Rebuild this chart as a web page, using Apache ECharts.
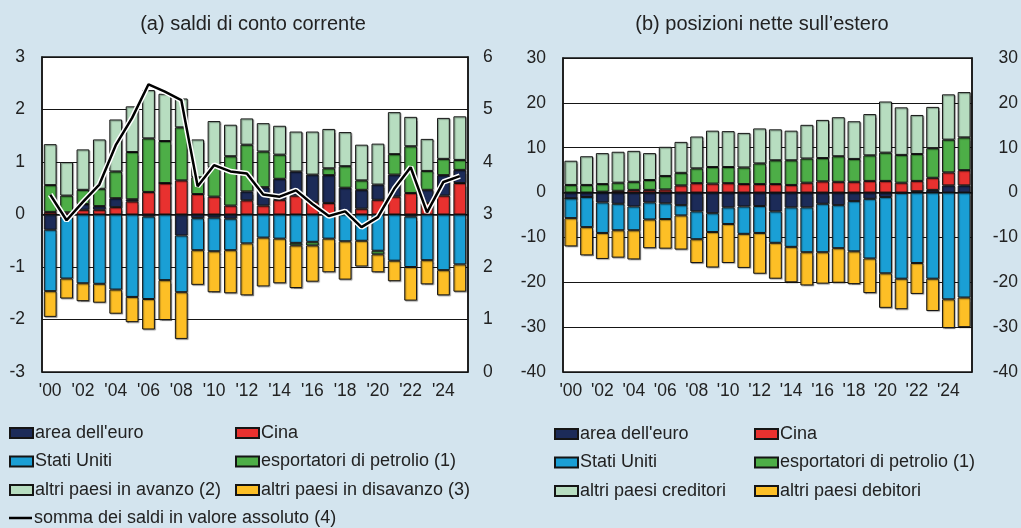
<!DOCTYPE html>
<html lang="it">
<head>
<meta charset="utf-8">
<title>Saldi di conto corrente e posizioni nette sull'estero</title>
<script src="https://cdn.jsdelivr.net/npm/echarts@6/dist/echarts.min.js"></script>
<style>
  html, body { margin: 0; padding: 0; background: #d3e4ee; }
  #chart { width: 1021px; height: 528px; }
</style>
</head>
<body>
<div id="chart"></div>
<script>
const years = ["'00", "'01", "'02", "'03", "'04", "'05", "'06", "'07", "'08", "'09", "'10", "'11", "'12",
  "'13", "'14", "'15", "'16", "'17", "'18", "'19", "'20", "'21", "'22", "'23", "'24", "'25"]

// (a) saldi di conto corrente, % PIL mondiale (asse sinistro); somma sull'asse destro
const caCina = [0.05, 0.04, 0.09, 0.09, 0.14, 0.25, 0.43, 0.60, 0.65, 0.39, 0.34, 0.17, 0.27, 0.17, 0.28, 0.36, 0.24, 0.22, 0.02, 0.11, 0.28, 0.34, 0.41, 0.22, 0.36, 0.60]
const caEuro = [-0.29, -0.04, 0.11, 0.07, 0.17, 0.04, -0.04, 0.00, -0.40, -0.07, -0.06, -0.08, 0.17, 0.35, 0.40, 0.46, 0.52, 0.53, 0.49, 0.36, 0.29, 0.42, -0.04, 0.25, 0.39, 0.25]
const caUsa = [-1.17, -1.18, -1.31, -1.32, -1.43, -1.57, -1.57, -1.25, -1.08, -0.61, -0.64, -0.60, -0.55, -0.44, -0.46, -0.54, -0.52, -0.46, -0.51, -0.50, -0.69, -0.88, -0.96, -0.87, -1.06, -0.95]
const caOil = [0.51, 0.32, 0.27, 0.33, 0.51, 0.90, 1.02, 0.80, 1.01, 0.32, 0.56, 0.94, 0.89, 0.68, 0.46, -0.05, -0.07, 0.13, 0.41, 0.18, -0.07, 0.39, 0.89, 0.36, 0.31, 0.19]
const caAvanzo = [0.78, 0.64, 0.77, 0.94, 0.99, 0.87, 0.92, 0.90, 0.55, 0.72, 0.88, 0.60, 0.50, 0.54, 0.55, 0.76, 0.82, 0.75, 0.65, 0.68, 0.78, 0.80, 0.56, 0.61, 0.78, 0.83]
const caDisavanzo = [-0.49, -0.38, -0.34, -0.36, -0.46, -0.48, -0.58, -0.76, -0.89, -0.66, -0.78, -0.82, -0.99, -0.93, -0.85, -0.81, -0.69, -0.64, -0.73, -0.49, -0.34, -0.39, -0.64, -0.46, -0.48, -0.52]
const caSomma = [3.38, 2.89, 3.24, 3.57, 4.32, 4.84, 5.48, 5.34, 5.18, 3.54, 3.94, 3.82, 3.78, 3.38, 3.34, 3.46, 3.20, 2.97, 3.06, 2.76, 2.95, 3.49, 3.90, 3.04, 3.62, 3.73]

// (b) posizioni nette sull'estero, % PIL mondiale
const npEuro = [-1.3, -1.0, -2.2, -2.5, -3.1, -2.2, -2.4, -2.8, -4.2, -4.6, -3.3, -3.1, -3.0, -4.2, -3.3, -3.3, -2.5, -2.8, -1.9, -1.4, -1.0, -0.1, 0.3, 0.6, 1.6, 1.6]
const npCina = [0.0, 0.0, 0.2, 0.4, 0.6, 0.6, 0.7, 1.6, 2.1, 2.0, 2.1, 1.9, 1.9, 1.9, 1.7, 2.2, 2.5, 2.4, 2.4, 2.6, 2.6, 2.2, 2.3, 2.7, 2.9, 3.4]
const npUsa = [-4.4, -6.7, -6.8, -5.9, -5.3, -3.8, -3.5, -2.3, -6.2, -4.2, -3.7, -6.1, -6.0, -7.0, -8.8, -10.0, -10.8, -9.6, -11.2, -13.3, -17.0, -19.1, -15.7, -19.2, -23.8, -23.4]
const npOil = [1.7, 1.7, 1.7, 1.8, 1.8, 2.2, 3.0, 2.8, 3.3, 3.7, 3.6, 3.7, 4.6, 5.3, 5.5, 5.4, 5.2, 5.7, 5.1, 5.7, 6.3, 6.2, 6.0, 6.6, 7.3, 7.3]
const npCreditori = [5.4, 6.4, 6.9, 6.9, 6.9, 6.0, 6.5, 6.9, 7.1, 8.1, 8.0, 7.7, 7.8, 6.9, 6.6, 7.5, 8.5, 8.7, 8.4, 9.2, 11.4, 10.6, 8.7, 9.2, 10.1, 10.1]
const npDebitori = [-6.3, -6.3, -5.8, -6.1, -6.5, -6.4, -6.6, -7.6, -5.3, -7.9, -8.7, -7.6, -9.1, -8.0, -7.9, -7.4, -7.0, -7.7, -7.3, -7.7, -7.7, -6.8, -6.9, -7.2, -6.4, -6.6]

const FONT = '"Liberation Sans", Arial, Helvetica, sans-serif'
const INK = '#222'
const C = { euro: '#1c2b58', cina: '#e8312f', usa: '#1a9fd5', oil: '#4dae47', avanzo: '#b7ddc0', disavanzo: '#fdbf26' }

function bars(name, data, color, panel) {
  return {
    type: 'bar', name, data,
    stack: panel ? 'np' : 'ca',
    xAxisIndex: panel, yAxisIndex: panel ? 2 : 0,
    barWidth: panel ? '82%' : '78%',
    itemStyle: { color, borderColor: '#151515', borderWidth: 1, shadowColor: 'rgba(0,0,0,0.35)', shadowOffsetX: 1, shadowOffsetY: 1, shadowBlur: 1 }
  }
}

function xAxis(gridIndex) {
  return {
    type: 'category', gridIndex, data: years,
    axisLine: { lineStyle: { color: '#151515', width: 1.5 } },
    axisTick: { inside: true, length: 5, interval: 0, lineStyle: { color: '#151515' } },
    axisLabel: { interval: 1, margin: 10, fontSize: 17.5, color: INK, fontFamily: FONT }
  }
}

function yAxis(gridIndex, min, max, interval, side, labelExtra) {
  return {
    type: 'value', gridIndex, min, max, interval, position: side,
    axisLine: { show: true, lineStyle: { color: '#151515', width: 1.5 } },
    axisTick: { show: false },
    splitLine: { show: side === 'left', lineStyle: { color: '#151515', width: 1 } },
    axisLabel: Object.assign({ fontSize: 17.5, color: INK, fontFamily: FONT, margin: 17 }, labelExtra)
  }
}

function legend(names, left, top, extra) {
  return Object.assign({
    orient: 'vertical', left, top, data: names, icon: 'rect',
    itemWidth: 23, itemHeight: 10, itemGap: 10.5, padding: 0, selectedMode: false,
    textStyle: { fontSize: 18, lineHeight: 18, color: INK, fontFamily: FONT, padding: [0, 0, 0, -3] }
  }, extra)
}

const gridBox = { show: true, backgroundColor: '#fff', borderColor: '#151515', borderWidth: 1.5 }

const option = {
  animation: false,
  backgroundColor: '#d3e4ee',
  graphic: [
    { type: 'text', x: 253, y: 24, style: { text: '(a) saldi di conto corrente', align: 'center', verticalAlign: 'middle', fontSize: 20, fontFamily: FONT, fill: INK } },
    { type: 'text', x: 762, y: 24, style: { text: '(b) posizioni nette sull\u2019estero', align: 'center', verticalAlign: 'middle', fontSize: 20, fontFamily: FONT, fill: INK } }
  ],
  grid: [
    Object.assign({ left: 42, top: 57, width: 426, height: 315 }, gridBox),
    Object.assign({ left: 563, top: 58, width: 416, height: 314 }, gridBox)
  ],
  xAxis: [xAxis(0), xAxis(1)],
  yAxis: [
    yAxis(0, -3, 3, 1, 'left'),
    yAxis(0, 0, 6, 1, 'right', { margin: 15 }),
    yAxis(1, -40, 30, 10, 'left'),
    yAxis(1, -40, 30, 10, 'right', { align: 'right', margin: 46 })
  ],
  legend: [
    legend(["area dell'euro", 'Stati Uniti', 'altri paesi in avanzo (2)'], 9, 424),
    legend(['Cina', 'esportatori di petrolio (1)', 'altri paesi in disavanzo (3)'], 235, 424),
    legend(['somma dei saldi in valore assoluto (4)'], 9, 509, { itemHeight: 2.5, itemStyle: { color: '#000', borderWidth: 0 } }),
    legend(["area dell'euro", 'Stati Uniti', 'altri paesi creditori'], 554, 425),
    legend(['Cina', 'esportatori di petrolio (1)', 'altri paesi debitori'], 754, 425)
  ],
  series: [
    bars('Cina', caCina, C.cina, 0),
    bars("area dell'euro", caEuro, C.euro, 0),
    bars('Stati Uniti', caUsa, C.usa, 0),
    bars('esportatori di petrolio (1)', caOil, C.oil, 0),
    bars('altri paesi in avanzo (2)', caAvanzo, C.avanzo, 0),
    bars('altri paesi in disavanzo (3)', caDisavanzo, C.disavanzo, 0),
    // bordo bianco sotto la linea nera
    { type: 'line', name: 'contorno', data: caSomma, xAxisIndex: 0, yAxisIndex: 1, symbol: 'none', silent: true,
      lineStyle: { color: '#fff', width: 5.5 }, z: 3 },
    { type: 'line', name: 'somma dei saldi in valore assoluto (4)', data: caSomma, xAxisIndex: 0, yAxisIndex: 1, symbol: 'none',
      itemStyle: { color: '#000' }, lineStyle: { color: '#000', width: 2.5 }, z: 4 },

    bars("area dell'euro", npEuro, C.euro, 1),
    bars('Cina', npCina, C.cina, 1),
    bars('Stati Uniti', npUsa, C.usa, 1),
    bars('esportatori di petrolio (1)', npOil, C.oil, 1),
    bars('altri paesi creditori', npCreditori, C.avanzo, 1),
    bars('altri paesi debitori', npDebitori, C.disavanzo, 1)
  ]
}

const chart = echarts.init(document.getElementById('chart'))
chart.setOption(option)
</script>
</body>
</html>
